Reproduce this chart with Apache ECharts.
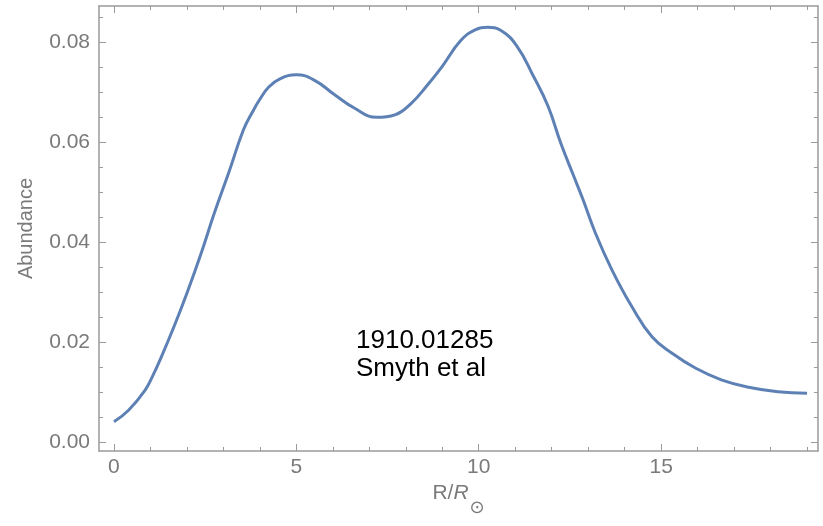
<!DOCTYPE html>
<html>
<head>
<meta charset="utf-8">
<script src="https://cdn.jsdelivr.net/npm/echarts@6/dist/echarts.min.js"></script>
<style>
html,body{margin:0;padding:0;background:#fff;}
#c{width:823px;height:526px;}
</style>
</head>
<body>
<div id="c"></div>
<script>
// R / R_sun values
const radius = [0.0, 0.4, 0.85, 1.05, 1.3, 1.65, 2.0, 2.4, 2.75, 3.15, 3.55, 3.8, 4.0, 4.25, 4.55, 5.0, 5.5, 6.05, 6.6, 7.2, 7.7, 8.15, 8.6, 9.0, 9.5, 9.9, 10.25, 10.6, 11.05, 11.5, 11.9, 12.25, 12.6, 12.85, 13.2, 13.65, 14.2, 14.75, 15.3, 15.95, 16.65, 17.4, 18.2, 19.0];
// Abundance values
const abundance = [0.0041, 0.0064, 0.0104, 0.0131, 0.0171, 0.0232, 0.0298, 0.0380, 0.0458, 0.0540, 0.0625, 0.0661, 0.0686, 0.0711, 0.0727, 0.0735, 0.0724, 0.0695, 0.0668, 0.0650, 0.0655, 0.0678, 0.0715, 0.0752, 0.0803, 0.0825, 0.0830, 0.0824, 0.0792, 0.0732, 0.0672, 0.0598, 0.0533, 0.0487, 0.0418, 0.0345, 0.0271, 0.0211, 0.0178, 0.0148, 0.0125, 0.0110, 0.0101, 0.0098];
// tick values
const xMajorTicks = [0, 5, 10, 15];
const xMinorTicks = [1, 2, 3, 4, 6, 7, 8, 9, 11, 12, 13, 14, 16, 17, 18, 19];
const yMajorTicks = [0, 0.02, 0.04, 0.06, 0.08];
const yMinorTicks = [0.005, 0.01, 0.015, 0.025, 0.03, 0.035, 0.045, 0.05, 0.055, 0.065, 0.07, 0.075, 0.085];
const annotation = ['1910.01285', 'Smyth et al'];

const XMIN = -0.41, XMAX = 19.3, YMIN = -0.00174, YMAX = 0.08726;
const FRAME = '#9a9a9a';
const LABEL = '#7a7a7a';
const FONT = 'Liberation Sans, Arial, sans-serif';

function xAx(pos, ticks, len, showLine, showLabel) {
  return {
    type: 'value', position: pos, min: XMIN, max: XMAX,
    axisLine: { show: showLine, onZero: false, lineStyle: { color: FRAME, width: 1.5 } },
    axisTick: { show: true, inside: true, length: len, customValues: ticks, lineStyle: { color: FRAME, width: 1 } },
    axisLabel: showLabel ? { show: true, customValues: ticks, color: LABEL, fontSize: 21, fontFamily: FONT, margin: 6 } : { show: false },
    splitLine: { show: false }
  };
}
function yAx(pos, ticks, len, showLine, showLabel) {
  return {
    type: 'value', position: pos, min: YMIN, max: YMAX,
    axisLine: { show: showLine, onZero: false, lineStyle: { color: FRAME, width: 1.5 } },
    axisTick: { show: true, inside: true, length: len, customValues: ticks, lineStyle: { color: FRAME, width: 1 } },
    axisLabel: showLabel ? { show: true, customValues: ticks, color: LABEL, fontSize: 21, fontFamily: FONT, margin: 9,
      formatter: v => v.toFixed(2) } : { show: false },
    splitLine: { show: false }
  };
}

const xMain = xAx('bottom', xMajorTicks, 7, true, true);
xMain.name = '{a|R/}{b|R}{c|⊙}';
xMain.nameLocation = 'middle';
xMain.nameGap = 32;
xMain.nameTextStyle = {
  color: LABEL, fontFamily: FONT, fontSize: 21,
  rich: {
    a: { color: LABEL, fontFamily: FONT, fontSize: 21, lineHeight: 22, verticalAlign: 'top' },
    b: { color: LABEL, fontFamily: FONT, fontSize: 21, fontStyle: 'italic', lineHeight: 22, verticalAlign: 'top' },
    c: { color: LABEL, fontFamily: 'DejaVu Sans, sans-serif', fontSize: 18, lineHeight: 20, verticalAlign: 'top', padding: [16, 0, 0, 1] }
  }
};
const yMain = yAx('left', yMajorTicks, 7, true, true);
yMain.name = 'Abundance';
yMain.nameLocation = 'middle';
yMain.nameGap = 63;
yMain.nameTextStyle = { color: LABEL, fontFamily: FONT, fontSize: 20 };

const chart = echarts.init(document.getElementById('c'), null, { renderer: 'canvas' });
chart.setOption({
  animation: false,
  backgroundColor: '#ffffff',
  grid: { left: 99, right: 5, top: 6, bottom: 75, containLabel: false },
  xAxis: [
    xMain,
    xAx('bottom', xMinorTicks, 4, false, false),
    xAx('top', xMajorTicks, 7, true, false),
    xAx('top', xMinorTicks, 4, false, false)
  ],
  yAxis: [
    yMain,
    yAx('left', yMinorTicks, 4, false, false),
    yAx('right', yMajorTicks, 7, true, false),
    yAx('right', yMinorTicks, 4, false, false)
  ],
  series: [{
    type: 'line',
    xAxisIndex: 0, yAxisIndex: 0,
    data: radius.map((r, i) => [r, abundance[i]]),
    smooth: 0.45,
    showSymbol: false,
    lineStyle: { color: '#5e81b5', width: 3 },
    itemStyle: { color: '#5e81b5' }
  }],
  graphic: [{
    type: 'text', left: 356, top: 327,
    style: { text: annotation.join('\n'), fill: '#000', fontFamily: FONT, fontSize: 26, lineHeight: 28 }
  }]
});
</script>
</body>
</html>
